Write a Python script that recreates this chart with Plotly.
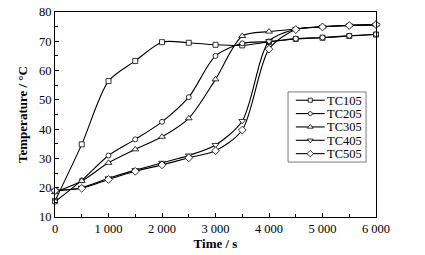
import plotly.graph_objects as go

time_s = [0, 500, 1000, 1500, 2000, 2500, 3000, 3500, 4000, 4500, 5000, 5500, 6000]
tc105 = [15.5, 34.8, 56.4, 63.3, 69.7, 69.5, 68.8, 68.6, 69.8, 70.8, 71.2, 71.8, 72.3]
tc205 = [15.2, 22.5, 31.0, 36.5, 42.5, 50.9, 65.0, 69.3, 69.9, 70.9, 71.3, 71.9, 72.4]
tc305 = [18.5, 22.3, 28.5, 33.1, 37.4, 43.7, 57.0, 71.8, 73.3, 74.2, 75.0, 75.5, 75.7]
tc405 = [19.0, 20.0, 23.2, 26.0, 28.5, 31.0, 34.6, 42.8, 70.0, 74.1, 74.9, 75.4, 75.6]
tc505 = [19.0, 19.8, 22.8, 25.6, 27.8, 30.2, 32.6, 39.7, 67.3, 74.0, 74.9, 75.4, 75.7]

names = ["TC105", "TC205", "TC305", "TC405", "TC505"]
series = [tc105, tc205, tc305, tc405, tc505]
symbols = ["square", "circle", "triangle-up", "triangle-down", "diamond"]
sizes = [5, 5, 6, 6, 6]

xticks = [0, 1000, 2000, 3000, 4000, 5000, 6000]
xticktext = ["0", "1 000", "2 000", "3 000", "4 000", "5 000", "6 000"]
yticks = [10, 20, 30, 40, 50, 60, 70, 80]

serif = "Liberation Serif, Times New Roman, serif"

fig = go.Figure()
for name, ys, sym, sz in zip(names, series, symbols, sizes):
    fig.add_trace(go.Scatter(
        x=time_s, y=ys, name=name, mode="lines+markers", showlegend=False,
        line=dict(color="black", width=1.1, shape="spline", smoothing=0.8),
        marker=dict(symbol=sym, size=sz, color="white", line=dict(color="black", width=0.8)),
        cliponaxis=False,
    ))

# custom legend drawn on an overlay axis (legend box coordinates: 0..1 each way)
n = len(names)
row_pos = [1 - (i + 0.62) / (n + 0.25) for i in range(n)]
for name, sym, sz, ry in zip(names, symbols, sizes, row_pos):
    fig.add_trace(go.Scatter(
        x=[0.1, 0.47], y=[ry, ry], mode="lines", showlegend=False, hoverinfo="skip",
        line=dict(color="black", width=1.1), xaxis="x2", yaxis="y2",
    ))
    fig.add_trace(go.Scatter(
        x=[0.285], y=[ry], mode="markers", showlegend=False, hoverinfo="skip",
        marker=dict(symbol=sym, size=sz - 1, color="white", line=dict(color="black", width=0.8)),
        xaxis="x2", yaxis="y2",
    ))
    fig.add_annotation(
        x=0.48, y=ry, xref="x2", yref="y2", text=name, showarrow=False,
        xanchor="left", yanchor="middle", font=dict(family=serif, size=12.5, color="black"),
        height=13, valign="middle",
    )

leg_x = [0.726, 0.969]
leg_y = [0.268, 0.610]
fig.add_shape(type="rect", xref="paper", yref="paper", x0=leg_x[0], x1=leg_x[1],
              y0=leg_y[0], y1=leg_y[1], line=dict(color="#7a7a7a", width=1), fillcolor="rgba(0,0,0,0)")

fig.update_layout(
    width=425, height=255,
    margin=dict(l=55, r=49, t=12, b=38),
    paper_bgcolor="white", plot_bgcolor="white",
    font=dict(family=serif, size=12.5, color="black"),
    showlegend=False,
    xaxis=dict(
        domain=[0, 1], range=[0, 6000], tickvals=xticks, ticktext=xticktext, automargin=False,
        ticks="inside", ticklen=4, tickcolor="black", tickwidth=1,
        minor=dict(ticks="inside", ticklen=3, dtick=500, tickcolor="black"),
        showline=True, linecolor="black", linewidth=1.2, mirror=True,
        showgrid=False, zeroline=False,
        title=dict(text="<b>Time / s</b>", standoff=3, font=dict(family=serif, size=13)),
    ),
    yaxis=dict(
        domain=[0, 1], range=[10, 80], tickvals=yticks, automargin=False,
        ticks="inside", ticklen=4, tickcolor="black", tickwidth=1,
        minor=dict(ticks="inside", ticklen=3, dtick=5, tickcolor="black"),
        showline=True, linecolor="black", linewidth=1.2, mirror=True,
        showgrid=False, zeroline=False,
        title=dict(text="<b>Temperature / °C</b>", standoff=8, font=dict(family=serif, size=13)),
    ),
    xaxis2=dict(domain=leg_x, range=[0, 1], visible=False, anchor="y2", fixedrange=True),
    yaxis2=dict(domain=leg_y, range=[0, 1], visible=False, anchor="x2", fixedrange=True),
)
# remove the browser's default 8px body margin so the figure fills the window exactly
fig.write_html("out.html", config={"displayModeBar": False},
               post_script="document.body.style.margin='0px';")
